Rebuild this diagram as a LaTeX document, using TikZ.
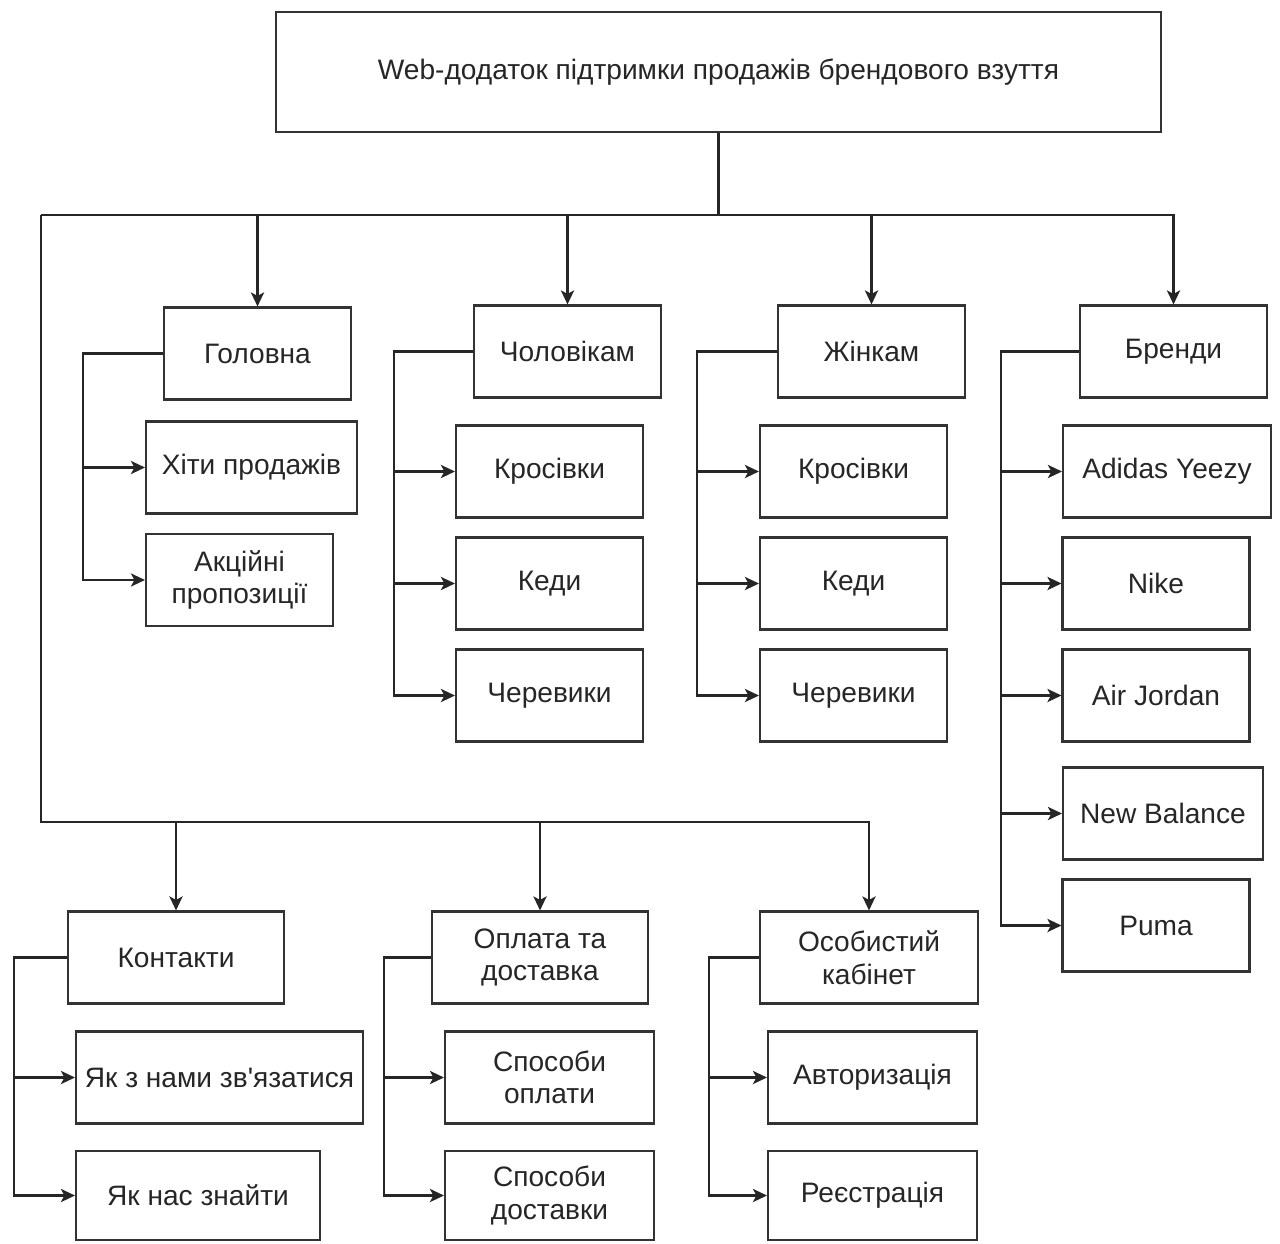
\documentclass[tikz,border=0pt]{standalone}
\usepackage{fontspec}
\setmainfont{Liberation Sans}
\usetikzlibrary{arrows.meta}
\tikzset{%
  box/.style = {
    draw = black!80, line width = 1.2pt, text = black!85,
    minimum width = 3.74cm, minimum height = 1.84cm,
    align = center, inner sep = 1pt,
    font = \fontsize{16}{18.5}\selectfont
  },
  conn/.style = {draw = black!85, line width = 1.2pt},
  arr/.style = {conn, -{Stealth[length=8pt,width=7.5pt,inset=2pt]}}
}

\begin{document}
\begin{tikzpicture}[x=0.02cm,y=-0.02cm]
\useasboundingbox (0,0) rectangle (1280,1243);
\node[box,minimum width=17.7cm,minimum height=2.4cm] (top) at (718.5,72)
  {Web-додаток підтримки продажів брендового взуття};
% first row
\node[box] (hol) at (257.5,353.5) {Головна};
\node[box] (chol) at (567.5,351.5) {Чоловікам};
\node[box] (zhin) at (871.5,351.5) {Жінкам};
\node[box] (bren) at (1173.5,351.5) {Бренди};
\node[box,minimum width=4.22cm] (hity) at (251.5,467.5) {Хіти продажів};
\node[box] (akc) at (239.5,580) {Акційні\\пропозиції};
\node[box] (ckros) at (549.5,471.5) {Кросівки};
\node[box] (cked) at (549.5,583.5) {Кеди};
\node[box] (ccher) at (549.5,695.5) {Черевики};
\node[box] (zkros) at (853.5,471.5) {Кросівки};
\node[box] (zked) at (853.5,583.5) {Кеди};
\node[box] (zcher) at (853.5,695.5) {Черевики};
\node[box,minimum width=4.16cm] (adi) at (1167,471.5) {Adidas Yeezy};
\node[box] (nike) at (1156,583.5) {Nike};
\node[box] (jord) at (1156,695.5) {Air Jordan};
\node[box,minimum width=4cm] (nb) at (1163,813.5) {New Balance};
\node[box] (puma) at (1156,925.5) {Puma};
% second row
\node[box,minimum width=4.32cm] (kon) at (176,957.5) {Контакти};
\node[box,minimum width=4.32cm] (opl) at (540,957.5) {Оплата та\\доставка};
\node[box,minimum width=4.36cm] (oso) at (869,957.5) {Особистий\\кабінет};
\node[box,minimum width=5.74cm] (zvyaz) at (219.5,1077.5) {Як з нами зв\textquotesingle язатися};
\node[box,minimum width=4.88cm,minimum height=1.78cm] (znaity) at (198,1195.5) {Як нас знайти};
\node[box,minimum width=4.18cm] (sopl) at (549.5,1077.5) {Способи\\оплати};
\node[box,minimum width=4.18cm,minimum height=1.78cm] (sdost) at (549.5,1195.5) {Способи\\доставки};
\node[box,minimum width=4.18cm] (avt) at (872.5,1077.5) {Авторизація};
\node[box,minimum width=4.18cm,minimum height=1.78cm] (reye) at (872.5,1195.5) {Реєстрація};

\coordinate (bus1) at (41,215);
\coordinate (bus2) at (41,822);
\draw[conn] (top.south) |- (bus1);
\draw[arr] (bus1) -| (bren.north);
\draw[arr] (hol.north |- bus1) -- (hol.north);
\draw[arr] (chol.north |- bus1) -- (chol.north);
\draw[arr] (zhin.north |- bus1) -- (zhin.north);
\draw[arr] (bus1) -- (bus2) -| (oso.north);
\draw[arr] (kon.north |- bus2) -- (kon.north);
\draw[arr] (opl.north |- bus2) -- (opl.north);
% branches
\foreach \c in {hity,akc} \draw[arr] (hol.west) -- ++(-80,0) |- (\c.west);
\foreach \c in {ckros,cked,ccher} \draw[arr] (chol.west) -- ++(-79,0) |- (\c.west);
\foreach \c in {zkros,zked,zcher} \draw[arr] (zhin.west) -- ++(-80,0) |- (\c.west);
\foreach \c in {adi,nike,jord,nb,puma} \draw[arr] (bren.west) -- ++(-78,0) |- (\c.west);
\foreach \c in {zvyaz,znaity} \draw[arr] (kon.west) -- ++(-53,0) |- (\c.west);
\foreach \c in {sopl,sdost} \draw[arr] (opl.west) -- ++(-47,0) |- (\c.west);
\foreach \c in {avt,reye} \draw[arr] (oso.west) -- ++(-50,0) |- (\c.west);
\end{tikzpicture}
\end{document}
